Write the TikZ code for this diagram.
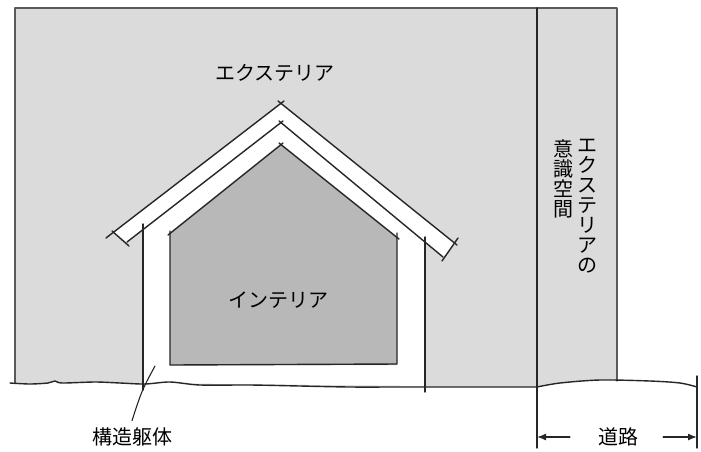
\documentclass[tikz,border=0pt]{standalone}
\usepackage{fontspec}
\newfontfamily\jp{Noto Sans CJK JP}
\usetikzlibrary{arrows.meta}

\begin{document}
\begin{tikzpicture}[x = 1pt, y = -1pt, line join = round, line cap = round,
    pen/.style = {line width = 1.4pt, draw = black!85},
    edge/.style = {line width = 1.2pt, draw = black!65},
    jptext/.style = {font = \jp\fontsize{20}{20}\selectfont, inner sep = 0pt}]
  \useasboundingbox (0, 0) rectangle (701, 451);
  % site, and the strip along the road
  \fill[black!14] (15, 8) rectangle (617, 392);
  \fill[white] plot[smooth] coordinates {(10, 383) (30, 384) (48, 383) (55, 381) (62, 383)
      (95, 382) (120, 383) (145, 384) (170, 382) (200, 385) (250, 385) (300, 386)
      (350, 387) (400, 387) (470, 387) (537, 387)}
    -- plot[smooth] coordinates {(537, 387) (560, 383) (600, 380) (650, 381) (680, 383) (697, 387)}
    -- (701, 451) -- (0, 451) -- cycle;
  \draw[edge] (15, 383) -- (15, 8) -- (617, 8) -- (617, 381);
  \draw[pen] (537, 8) -- (537, 448);
  \draw[pen] (697, 376) -- (697, 448);

  % structure and interior
  \fill[white] (113, 233) -- (281, 103) -- (455, 243) -- (443, 257) -- (425, 242)
    -- (425, 386) -- (143, 383) -- (143, 230) -- (127, 242) -- cycle;
  \fill[black!28] (170, 233) -- (281, 145) -- (397, 237) -- (397, 365) -- (170, 365) -- cycle;
  % roof
  \draw[pen] (106, 238) -- (284, 101);
  \draw[pen] (278, 101) -- (457, 245);
  \draw[pen] (127, 242) -- (283, 121);
  \draw[pen] (279, 121) -- (443, 257);
  \draw[pen] (112, 231) -- (129, 246);
  \draw[pen] (458, 238) -- (442, 261);
  % walls
  \draw[pen] (143, 224) -- (143, 390);
  \draw[pen] (425, 237) -- (425, 392);
  \draw[pen] (168, 235) -- (283, 143);
  \draw[pen] (279, 143) -- (399, 239);
  \draw[pen] (170, 231) -- (170, 365) -- (397, 364) -- (397, 233);

  % ground
  \draw[pen] plot[smooth] coordinates {(10, 383) (30, 384) (48, 383) (55, 381) (62, 383)
      (95, 382) (120, 383) (145, 384) (170, 382) (200, 385) (250, 385) (300, 386)
      (350, 387) (400, 387) (470, 387) (537, 387)};
  \draw[pen] plot[smooth] coordinates {(537, 387) (560, 383) (600, 380) (650, 381) (680, 383) (697, 387)};

  % labels
  \node[jptext] (ext) at (275, 73) {エクステリア};
  \node[jptext] (int) at (278, 300) {インテリア};
  \node[jptext] (kutai) at (132, 437) {構造躯体};
  \node[jptext, align = center, anchor = north] (extcol) at (587, 139) {エ\\ク\\ス\\テ\\リ\\ア\\の};
  \node[jptext, align = center, anchor = north] (ishiki) at (563, 139) {意\\識\\空\\間};
  \node[jptext] (road) at (618, 437) {道路};

  \coordinate (ldr) at (155, 366);
  \draw[pen, line width = 1.1pt] (ldr) .. controls (142, 390) .. ([yshift = 7pt]kutai.north);

  % road width
  \coordinate (roadL) at (537, 437);
  \coordinate (roadR) at (697, 437);
  \draw[pen, -{Latex[length = 9pt, width = 7pt]}] ([xshift = -28pt]road.west) -- (roadL);
  \draw[pen, -{Latex[length = 9pt, width = 7pt]}] ([xshift = 25pt]road.east) -- (roadR);
\end{tikzpicture}
\end{document}
